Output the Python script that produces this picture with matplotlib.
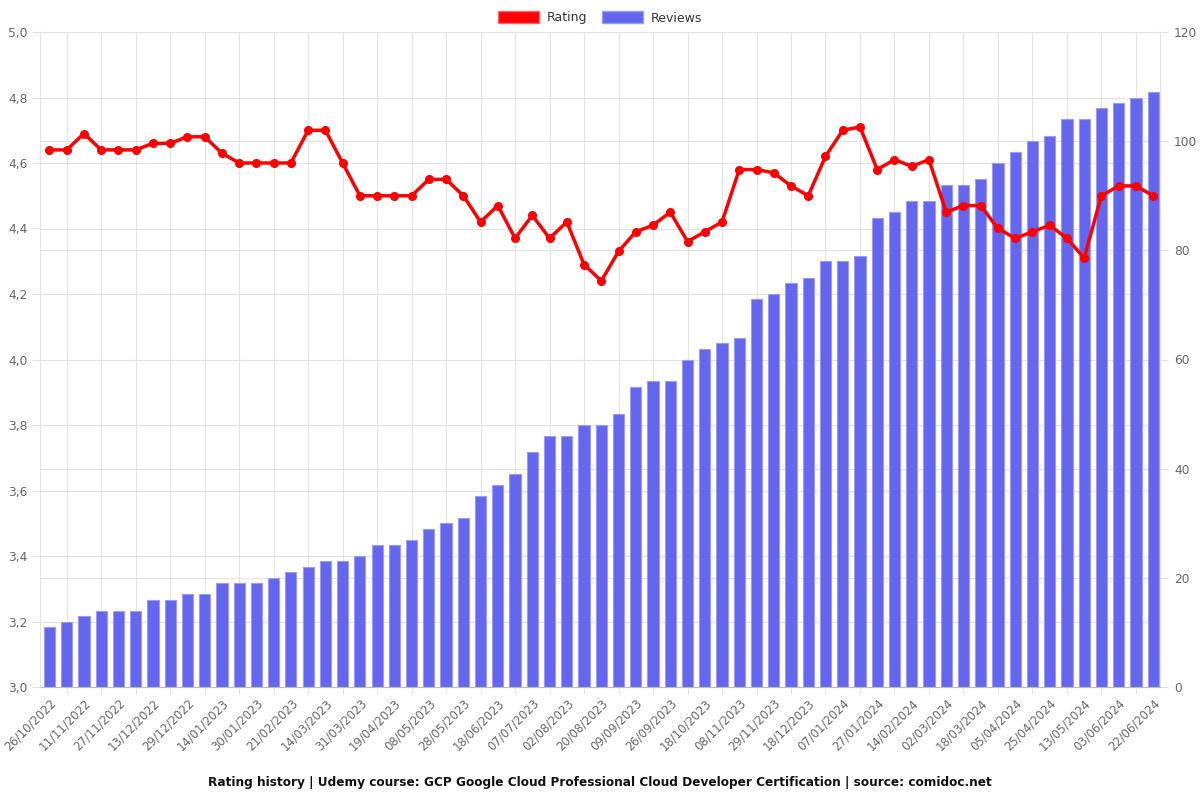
import matplotlib.pyplot as plt
from matplotlib.patches import Patch
from matplotlib.ticker import FuncFormatter, MultipleLocator

# ============================================================
# Data
# ============================================================

date_labels = [
    "26/10/2022", "11/11/2022", "27/11/2022", "13/12/2022", "29/12/2022",
    "14/01/2023", "30/01/2023", "21/02/2023", "14/03/2023", "31/03/2023",
    "19/04/2023", "08/05/2023", "28/05/2023", "18/06/2023", "07/07/2023",
    "02/08/2023", "20/08/2023", "09/09/2023", "26/09/2023", "18/10/2023",
    "08/11/2023", "29/11/2023", "18/12/2023", "07/01/2024", "27/01/2024",
    "14/02/2024", "02/03/2024", "18/03/2024", "05/04/2024", "25/04/2024",
    "13/05/2024", "03/06/2024", "22/06/2024",
]

reviews = [
    11, 12, 13, 14, 14, 14, 16, 16, 17, 17,
    19, 19, 19, 20, 21, 22, 23, 23, 24, 26,
    26, 27, 29, 30, 31, 35, 37, 39, 43, 46,
    46, 48, 48, 50, 55, 56, 56, 60, 62, 63,
    64, 71, 72, 74, 75, 78, 78, 79, 86, 87,
    89, 89, 92, 92, 93, 96, 98, 100, 101, 104,
    104, 106, 107, 108, 109,
]

rating = [
    4.64, 4.64, 4.69, 4.64, 4.64, 4.64, 4.66, 4.66, 4.68, 4.68,
    4.63, 4.60, 4.60, 4.60, 4.60, 4.70, 4.70, 4.60, 4.50, 4.50,
    4.50, 4.50, 4.55, 4.55, 4.50, 4.42, 4.47, 4.37, 4.44, 4.37,
    4.42, 4.29, 4.24, 4.33, 4.39, 4.41, 4.45, 4.36, 4.39, 4.42,
    4.58, 4.58, 4.57, 4.53, 4.50, 4.62, 4.70, 4.71, 4.58, 4.61,
    4.59, 4.61, 4.45, 4.47, 4.47, 4.40, 4.37, 4.39, 4.41, 4.37,
    4.31, 4.50, 4.53, 4.53, 4.50,
]

TITLE = ("Rating history | Udemy course: GCP Google Cloud Professional "
         "Cloud Developer Certification | source: comidoc.net")

BAR_COLOR = "#6466ee"
LINE_COLOR = "#ff0000"
TEXT_COLOR = "#666666"
GRID_COLOR = "#e3e3e3"

# ============================================================
# Figure
# ============================================================

fig = plt.figure(figsize=(12, 8), dpi=100)
ax = fig.add_axes([0.0333, 0.14125, 0.9334, 0.81875])

x = list(range(len(reviews)))

# bars (right axis values), drawn underneath
ax.bar(x, reviews, width=0.65, color=BAR_COLOR,
       edgecolor="#9a9cf5", linewidth=0.8, zorder=2)

ax.set_xlim(-0.55, len(reviews) - 0.6)
ax.set_ylim(0, 120)
ax.yaxis.set_major_locator(MultipleLocator(20))
# minor y ticks line up with the rating ticks (3.0 .. 5.0 step 0.2)
ax.yaxis.set_minor_locator(MultipleLocator(12))

ax.set_xticks(x[::2])
ax.set_xticklabels(date_labels, rotation=45, ha="right",
                   rotation_mode="anchor")
ax.set_xticks(x[1::2], minor=True)

ax.grid(True, which="minor", axis="x", color=GRID_COLOR, linewidth=0.8,
        zorder=0)
ax.grid(True, which="both", axis="y", color=GRID_COLOR, linewidth=0.8,
        zorder=0)
ax.set_axisbelow(True)

for side in ["left", "right", "top"]:
    ax.spines[side].set_color(GRID_COLOR)
ax.spines["bottom"].set_color("#bbbbbb")

# rating line (left axis), drawn on top
ax2 = ax.twinx()
ax2.plot(x, rating, color=LINE_COLOR, linewidth=2.5, marker="o",
         markersize=5.5, zorder=3)
ax2.set_ylim(3.0, 5.0)
ax2.yaxis.set_major_locator(MultipleLocator(0.2))
ax2.yaxis.set_major_formatter(
    FuncFormatter(lambda v, _: f"{v:.1f}".replace(".", ","))
)
for side in ax2.spines:
    ax2.spines[side].set_visible(False)

# twinx resets tick sides, so set them afterwards
ax.yaxis.tick_right()
ax2.yaxis.tick_left()

ax.tick_params(axis="x", which="major", length=0, pad=7,
               labelsize=8.4, labelcolor=TEXT_COLOR)
ax.tick_params(axis="x", which="minor", length=5, color=GRID_COLOR)
ax.tick_params(axis="y", which="major", length=6, color=GRID_COLOR,
               labelsize=8.8, labelcolor=TEXT_COLOR, pad=4)
ax.tick_params(axis="y", which="minor", length=0)
ax2.tick_params(axis="y", length=6, color=GRID_COLOR, labelsize=8.8,
                labelcolor=TEXT_COLOR, pad=3)

# ============================================================
# Legend and title
# ============================================================

handles = [
    Patch(facecolor=LINE_COLOR, edgecolor="#ff6666", label="Rating"),
    Patch(facecolor=BAR_COLOR, edgecolor="#9a9cf5", label="Reviews"),
]
fig.legend(handles=handles, loc="upper center", bbox_to_anchor=(0.5, 1.0),
           ncol=2, frameon=False, fontsize=9, handlelength=3.3,
           handleheight=1.1, columnspacing=1.2, handletextpad=0.6,
           labelcolor="#333333")

fig.text(0.5, 0.022, TITLE, ha="center", va="center", fontsize=8.7,
         fontweight="bold", color="#111111")

fig.savefig("out.png", dpi=100)
